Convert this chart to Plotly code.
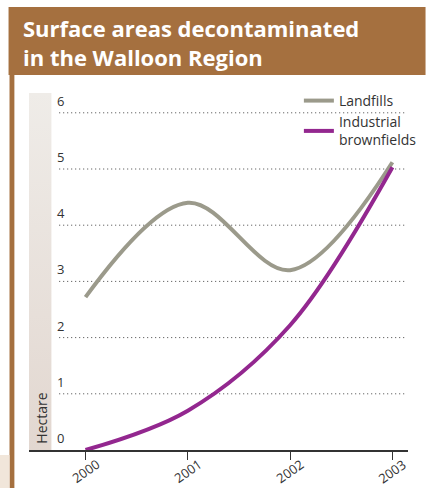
import plotly.graph_objects as go

# Surface areas decontaminated (hectare) by year
years = [2000, 2001, 2002, 2003]
landfills = [2.72, 4.40, 3.20, 5.12]
brownfields = [0.0, 0.70, 2.22, 5.03]
y_ticks = [0, 1, 2, 3, 4, 5, 6]
x_tick_labels = ["2000", "2001", "2002", "2003"]

W, H = 434, 488
L, R, T, B = 29, 16, 93, 38          # plot-area margins in pixels
PW, PH = W - L - R, H - T - B

BROWN = "#A5703F"
GREY_LINE = "#9B9A8B"
PURPLE = "#93278F"
TEXT = "#333333"
FONT = "Open Sans"


def px_x(p):
    """pixel x -> paper x"""
    return (p - L) / PW


def px_y(p):
    """pixel y (from top) -> paper y"""
    return (H - B - p) / PH


fig = go.Figure()

# shaded band behind the y-axis labels
fig.add_trace(go.Scatter(
    x=[0, 23 / PW, 23 / PW, 0, 0], y=[0, 0, 1, 1, 0],
    xaxis="x2", yaxis="y2", mode="none", fill="toself",
    fillgradient=dict(type="vertical",
                      colorscale=[[0, "#E2D7D0"], [1, "#EFECE8"]]),
    hoverinfo="skip", showlegend=False,
))

fig.add_trace(go.Scatter(
    x=years, y=landfills, name="Landfills", mode="lines",
    line=dict(color=GREY_LINE, width=4, shape="spline", smoothing=1.0),
))
fig.add_trace(go.Scatter(
    x=years, y=brownfields, name="Industrial<br>brownfields", mode="lines",
    line=dict(color=PURPLE, width=4, shape="spline", smoothing=1.0),
))

shapes = []
# title banner and left border
shapes.append(dict(type="rect", xref="paper", yref="paper", layer="below",
                   x0=px_x(8), x1=px_x(W + 2), y0=px_y(75), y1=px_y(7),
                   fillcolor=BROWN, line_width=0))
shapes.append(dict(type="rect", xref="paper", yref="paper", layer="below",
                   x0=px_x(9), x1=px_x(14), y0=px_y(H + 2), y1=px_y(75),
                   fillcolor=BROWN, line_width=0))
shapes.append(dict(type="rect", xref="paper", yref="paper", layer="below",
                   x0=px_x(-2), x1=px_x(9), y0=px_y(H + 2), y1=px_y(455),
                   fillcolor="#F1E6DA", line_width=0))

# dotted gridlines
for v in y_ticks[1:]:
    shapes.append(dict(type="line", xref="paper", yref="y", layer="below",
                       x0=px_x(60), x1=px_x(415), y0=v, y1=v,
                       line=dict(color="#444444", width=1, dash="1px,3px")))

annotations = [
    dict(text="<b>Surface areas decontaminated<br>in the Walloon Region</b>",
         xref="paper", yref="paper", x=px_x(21), y=px_y(11),
         xanchor="left", yanchor="top", align="left", showarrow=False,
         font=dict(family=FONT, size=22, color="white")),
    dict(text="Hectare", xref="paper", yref="paper", x=px_x(41), y=px_y(418),
         xanchor="center", yanchor="middle",
         textangle=-90, showarrow=False,
         font=dict(family=FONT, size=14, color=TEXT)),
]
for v in y_ticks:
    annotations.append(dict(text=str(v), xref="paper", yref="y",
                            x=px_x(56), y=v, yshift=1,
                            xanchor="left", yanchor="bottom", showarrow=False,
                            font=dict(family=FONT, size=13, color=TEXT)))
# rotated year labels centred under each tick
for yr, lab in zip(years, x_tick_labels):
    annotations.append(dict(text=lab, xref="x", yref="paper",
                            x=yr, y=px_y(471), xanchor="center",
                            yanchor="middle", textangle=-35, showarrow=False,
                            font=dict(family=FONT, size=13, color=TEXT)))

fig.update_layout(
    width=W, height=H,
    margin=dict(l=L, r=R, t=T, b=B),
    paper_bgcolor="white", plot_bgcolor="rgba(0,0,0,0)",
    xaxis=dict(range=[2000 - 58 / 105, 2003 + 16 / 105],
               tickvals=years, showticklabels=False,
               ticks="outside", ticklen=8, tickcolor=TEXT, tickwidth=1,
               showline=True, linecolor=TEXT, linewidth=1.5,
               showgrid=False, zeroline=False, fixedrange=True),
    yaxis=dict(range=[0, 357 / 56.2], showticklabels=False, showgrid=False,
               zeroline=False, fixedrange=True),
    xaxis2=dict(range=[0, 1], overlaying="x", visible=False, fixedrange=True),
    yaxis2=dict(range=[0, 1], overlaying="y", visible=False, fixedrange=True),
    shapes=shapes,
    annotations=annotations,
    showlegend=True,
    legend=dict(x=px_x(306), y=px_y(85), xanchor="left", yanchor="top",
                bgcolor="rgba(0,0,0,0)", tracegroupgap=6,
                font=dict(family=FONT, size=14, color=TEXT)),
)

fig.write_html("out.html")
